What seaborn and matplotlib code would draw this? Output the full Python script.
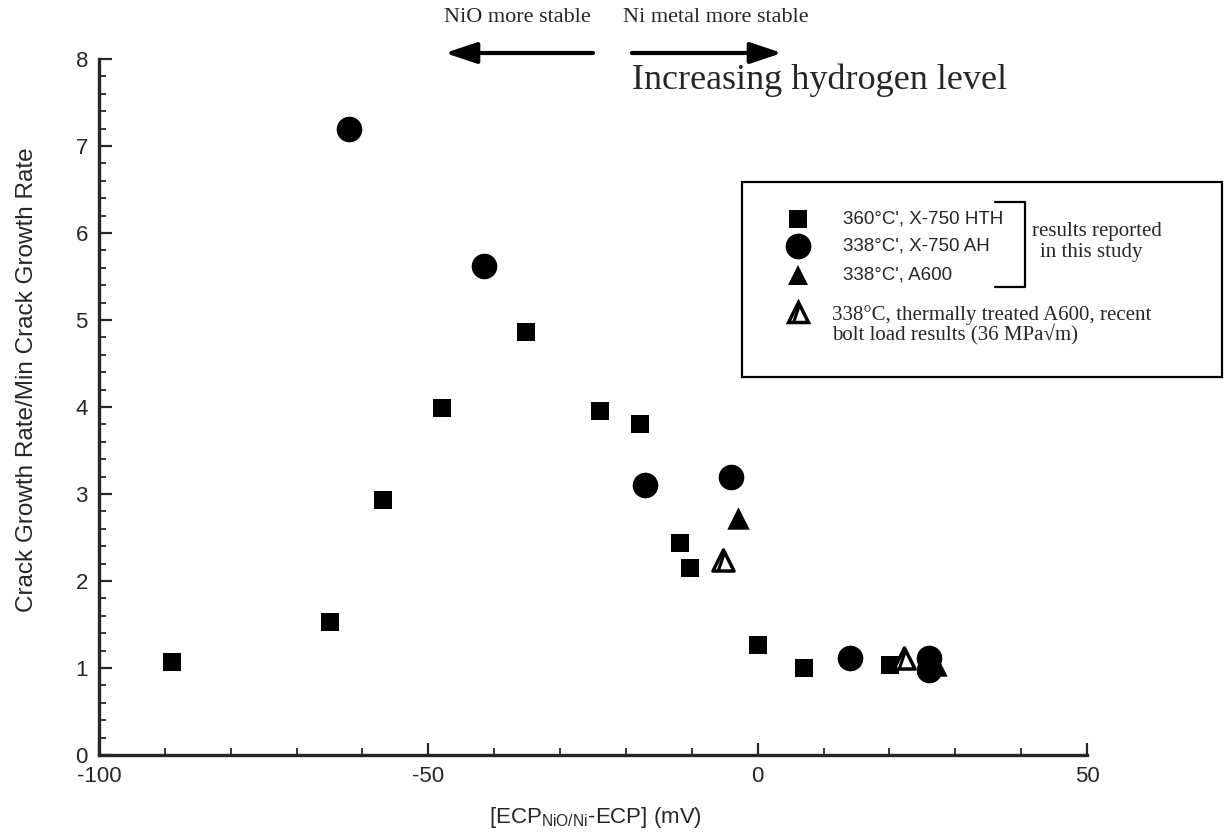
import matplotlib
matplotlib.use("Agg")
import matplotlib.pyplot as plt
import seaborn as sns
import pandas as pd
from matplotlib.lines import Line2D
from matplotlib.patches import Rectangle, FancyArrowPatch
from matplotlib.path import Path
from matplotlib.markers import MarkerStyle
from matplotlib.ticker import MultipleLocator

# ---- data ----
sq_x = [-88.9, -64.9, -56.9, -48.0, -35.1, -24.0, -17.9, -11.8, -10.2, 0.0, 7.0, 20.1]
sq_y = [1.07, 1.53, 2.93, 3.99, 4.86, 3.95, 3.80, 2.44, 2.15, 1.26, 1.00, 1.03]
ci_x = [-62.1, -41.6, -17.1, -4.1, 14.0, 26.0, 26.0]
ci_y = [7.20, 5.62, 3.10, 3.20, 1.11, 1.12, 0.98]
tri_x = [-3.0, 27.0]
tri_y = [2.72, 1.03]
htri_x = [-5.3, 22.2]
htri_y = [2.24, 1.11]

x_ticks = [-100, -50, 0, 50]
y_ticks = [0, 1, 2, 3, 4, 5, 6, 7, 8]

legend_labels = ["360\u00b0C', X-750 HTH", "338\u00b0C', X-750 AH", "338\u00b0C', A600"]
legend_open = ["338\u00b0C, thermally treated A600, recent", "bolt load results (36 MPa\u221am)"]
bracket_text = ["results reported", "in this study"]

sns.set_style("ticks")
plt.rcParams['font.family'] = ['Liberation Sans', 'DejaVu Sans']
plt.rcParams['mathtext.fontset'] = 'custom'
plt.rcParams['mathtext.rm'] = 'Liberation Sans'
plt.rcParams['axes.unicode_minus'] = False
SERIF = ['Liberation Serif', 'DejaVu Serif']

W, H = 1224, 836
fig = plt.figure(figsize=(W / 100, H / 100), dpi=100)
fx = lambda px: px / W
fy = lambda py: 1 - py / H

ax = fig.add_axes([fx(99), fy(755), (1087 - 99) / W, (755 - 59) / H])

df_sq = pd.DataFrame({"x": sq_x, "y": sq_y})
df_ci = pd.DataFrame({"x": ci_x, "y": ci_y})
df_tr = pd.DataFrame({"x": tri_x, "y": tri_y})
df_ht = pd.DataFrame({"x": htri_x, "y": htri_y})

# slash drawn inside the open triangle (same normalisation as the '^' marker)
slash = MarkerStyle(Path([(0.05, 0.6), (-0.5, -1.0)], [Path.MOVETO, Path.LINETO]))

sns.scatterplot(data=df_sq, x="x", y="y", marker="s", s=185, color="black", linewidth=0, ax=ax, zorder=3)
sns.scatterplot(data=df_tr, x="x", y="y", marker="^", s=260, color="black", linewidth=0, ax=ax, zorder=3)
sns.scatterplot(data=df_ht, x="x", y="y", marker="^", s=230, color="white", edgecolor="black",
                linewidth=2.5, ax=ax, zorder=4)
sns.scatterplot(data=df_ht, x="x", y="y", marker=slash, s=230, color="black", edgecolor="black",
                linewidth=2.2, ax=ax, zorder=4)
sns.scatterplot(data=df_ci, x="x", y="y", marker="o", s=340, color="black", linewidth=0, ax=ax, zorder=5)

ax.set_xlim(-100, 50)
ax.set_ylim(0, 8)
ax.set_xticks(x_ticks)
ax.set_yticks(y_ticks)
ax.xaxis.set_minor_locator(MultipleLocator(10))
ax.yaxis.set_minor_locator(MultipleLocator(0.2))
sns.despine(ax=ax)
for s in ["left", "bottom"]:
    ax.spines[s].set_linewidth(2.4)
ax.tick_params(which="major", direction="in", length=9, width=1.6, labelsize=16, pad=8)
ax.tick_params(which="minor", direction="in", length=5, width=1.3)

ax.set_xlabel(r"[ECP$_{\mathregular{NiO/Ni}}$-ECP] (mV)", fontsize=16, va="center")
ax.xaxis.set_label_coords(0.502, -0.090)
ax.set_ylabel("Crack Growth Rate/Min Crack Growth Rate", fontsize=17.5, va="center")
ax.yaxis.set_label_coords(-0.073, 0.539)

# ---- top annotations ----
fig.text(fx(517), fy(17), "NiO more stable", family=SERIF, fontsize=16, ha="center", va="center")
fig.text(fx(716), fy(17), "Ni metal more stable", family=SERIF, fontsize=16, ha="center", va="center")
fig.text(fx(632), fy(80), "Increasing hydrogen level", family=SERIF, fontsize=26, ha="left", va="center")
arrowprops = dict(arrowstyle="-|>,head_length=1.2,head_width=0.4", lw=3, color="black",
                  shrinkA=0, shrinkB=0, mutation_scale=16)
fig.add_artist(FancyArrowPatch((fx(593), fy(53)), (fx(445), fy(53)),
                               transform=fig.transFigure, **arrowprops))
fig.add_artist(FancyArrowPatch((fx(632), fy(53)), (fx(782), fy(53)),
                               transform=fig.transFigure, **arrowprops))

# ---- legend box ----
fig.add_artist(Rectangle((fx(742), fy(377)), (1222 - 742) / W, (377 - 182) / H,
                         transform=fig.transFigure, fill=False, edgecolor="black", linewidth=1.6))
mk = [("s", 13, 219), ("o", 18.5, 246), ("^", 15, 275)]
for (m, ms, py), lab in zip(mk, legend_labels):
    fig.add_artist(Line2D([fx(798)], [fy(py)], transform=fig.transFigure, marker=m, markersize=ms,
                          color="black", markeredgewidth=0, linestyle="none"))
    fig.text(fx(843), fy(py), lab, fontsize=13.5, ha="left", va="center")
fig.add_artist(Line2D([fx(798)], [fy(312)], transform=fig.transFigure, marker="^", markersize=14,
                      markerfacecolor="white", markeredgecolor="black", markeredgewidth=2.5,
                      linestyle="none"))
fig.add_artist(Line2D([fx(798)], [fy(312)], transform=fig.transFigure, marker=slash, markersize=14,
                      color="black", markeredgewidth=2.2, linestyle="none"))
fig.text(fx(832), fy(315), legend_open[0], family=SERIF, fontsize=15, ha="left", va="center")
fig.text(fx(832), fy(334), legend_open[1], family=SERIF, fontsize=15, ha="left", va="center")
# bracket
fig.add_artist(Line2D([fx(995), fx(1025), fx(1025), fx(995)], [fy(202), fy(202), fy(287), fy(287)],
                      transform=fig.transFigure, color="black", linewidth=1.6))
fig.text(fx(1032), fy(231), bracket_text[0], family=SERIF, fontsize=15, ha="left", va="center")
fig.text(fx(1040), fy(252), bracket_text[1], family=SERIF, fontsize=15, ha="left", va="center")

fig.savefig("out.png", dpi=100, facecolor="white")
